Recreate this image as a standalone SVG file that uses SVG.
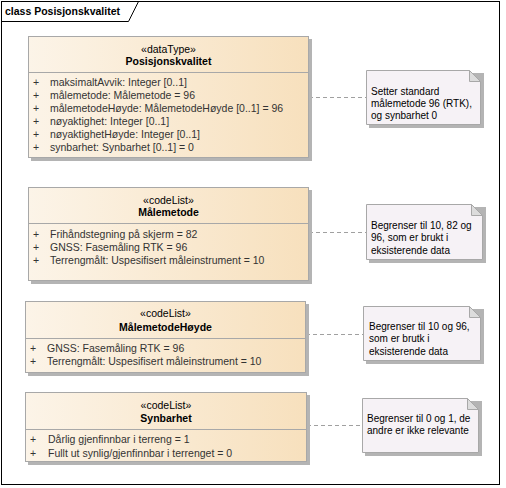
<svg xmlns="http://www.w3.org/2000/svg" width="506" height="488" viewBox="0 0 506 488">
<defs>
<linearGradient id="cls" x1="0" y1="0" x2="1" y2="0">
<stop offset="0" stop-color="#FCF4E8"/>
<stop offset="1" stop-color="#F7E0BD"/>
</linearGradient>
</defs>
<style>
.frame{fill:none;stroke:#000;stroke-width:1}
.box{fill:url(#cls);stroke:#A8A8A8;stroke-width:1}
.shadow{fill:#B4B4B4}
.div{stroke:#A8A8A8;stroke-width:1}
.note{fill:#F6F2F6;stroke:#A8A8A8;stroke-width:1}
.fold{fill:#DCDCDC;stroke:#A8A8A8;stroke-width:1}
.conn{stroke:#A0A0A0;stroke-width:1;stroke-dasharray:4 3;fill:none}
text{font-family:"Liberation Sans",Arial,sans-serif;font-size:10.5px;fill:#333}
.st{text-anchor:middle;fill:#000}
.nm{text-anchor:middle;font-weight:bold;fill:#000}
.nt{font-size:10px;fill:#000}
.title{font-weight:bold;fill:#000}
</style>
<rect x="0" y="0" width="506" height="488" fill="#fff"/>
<g id="frame">
<rect class="frame" x="1.5" y="1.5" width="498" height="483"/>
<path class="frame" d="M1.5 21.5 H128.5 L138.5 1.5"/>
<text class="title" x="5" y="15">class Posisjonskvalitet</text>
</g>
<g id="connectors">
<line class="conn" x1="309" y1="97.5" x2="366" y2="97.5"/>
<line class="conn" x1="309" y1="232.5" x2="366" y2="232.5"/>
<line class="conn" x1="306" y1="334.5" x2="363" y2="334.5"/>
<line class="conn" x1="307" y1="425.5" x2="362" y2="425.5"/>
</g>
<g id="Posisjonskvalitet">
<rect class="shadow" x="31" y="39" width="281" height="122"/>
<rect class="box" x="28.5" y="36.5" width="280" height="121"/>
<line class="div" x1="28.5" y1="72.5" x2="308.5" y2="72.5"/>
<text class="st" x="168.5" y="53">«dataType»</text>
<text class="nm" x="168.5" y="65">Posisjonskvalitet</text>
<text x="33" y="86">+</text><text x="50" y="86">maksimaltAvvik: Integer [0..1]</text>
<text x="33" y="99">+</text><text x="50" y="99">målemetode: Målemetode = 96</text>
<text x="33" y="112">+</text><text x="50" y="112">målemetodeHøyde: MålemetodeHøyde [0..1] = 96</text>
<text x="33" y="125">+</text><text x="50" y="125">nøyaktighet: Integer [0..1]</text>
<text x="33" y="138">+</text><text x="50" y="138">nøyaktighetHøyde: Integer [0..1]</text>
<text x="33" y="151">+</text><text x="50" y="151">synbarhet: Synbarhet [0..1] = 0</text>
</g>
<g id="note1">
<path class="shadow" d="M369 73 H484 V128 H369 Z"/>
<path class="note" d="M366.5 70.5 H469.5 L480.5 81.5 V124.5 H366.5 Z"/>
<path class="fold" d="M469.5 70.5 V81.5 H480.5 Z"/>
<text class="nt" x="371" y="95">Setter standard</text>
<text class="nt" x="371" y="107">målemetode 96 (RTK),</text>
<text class="nt" x="371" y="119">og synbarhet 0</text>
</g>
<g id="Malemetode">
<rect class="shadow" x="31" y="190" width="281" height="94"/>
<rect class="box" x="28.5" y="187.5" width="280" height="93"/>
<line class="div" x1="28.5" y1="223.5" x2="308.5" y2="223.5"/>
<text class="st" x="168.5" y="204">«codeList»</text>
<text class="nm" x="168.5" y="216">Målemetode</text>
<text x="33" y="238">+</text><text x="50" y="238">Frihåndstegning på skjerm = 82</text>
<text x="33" y="251">+</text><text x="50" y="251">GNSS: Fasemåling RTK = 96</text>
<text x="33" y="264">+</text><text x="50" y="264">Terrengmålt: Uspesifisert måleinstrument = 10</text>
</g>
<g id="note2">
<path class="shadow" d="M369 207 H486 V263 H369 Z"/>
<path class="note" d="M366.5 204.5 H471.5 L482.5 215.5 V259.5 H366.5 Z"/>
<path class="fold" d="M471.5 204.5 V215.5 H482.5 Z"/>
<text class="nt" x="371" y="229">Begrenser til 10, 82 og</text>
<text class="nt" x="371" y="241">96, som er brukt i</text>
<text class="nt" x="371" y="254">eksisterende data</text>
</g>
<g id="MalemetodeHoyde">
<rect class="shadow" x="28" y="304" width="281" height="72"/>
<rect class="box" x="25.5" y="301.5" width="280" height="71"/>
<line class="div" x1="25.5" y1="338.5" x2="305.5" y2="338.5"/>
<text class="st" x="165.5" y="317">«codeList»</text>
<text class="nm" x="165.5" y="331">MålemetodeHøyde</text>
<text x="30" y="352">+</text><text x="47" y="352">GNSS: Fasemåling RTK = 96</text>
<text x="30" y="365">+</text><text x="47" y="365">Terrengmålt: Uspesifisert måleinstrument = 10</text>
</g>
<g id="note3">
<path class="shadow" d="M366 309 H484 V364 H366 Z"/>
<path class="note" d="M363.5 306.5 H469.5 L480.5 317.5 V360.5 H363.5 Z"/>
<path class="fold" d="M469.5 306.5 V317.5 H480.5 Z"/>
<text class="nt" x="369" y="330">Begrenser til 10 og 96,</text>
<text class="nt" x="369" y="342">som er brutk i</text>
<text class="nt" x="369" y="355">eksisterende data</text>
</g>
<g id="Synbarhet">
<rect class="shadow" x="28" y="395" width="282" height="70"/>
<rect class="box" x="25.5" y="392.5" width="281" height="69"/>
<line class="div" x1="25.5" y1="429.5" x2="306.5" y2="429.5"/>
<text class="st" x="166" y="409">«codeList»</text>
<text class="nm" x="166" y="422">Synbarhet</text>
<text x="30" y="443">+</text><text x="48" y="443">Dårlig gjenfinnbar i terreng = 1</text>
<text x="30" y="457">+</text><text x="48" y="457">Fullt ut synlig/gjenfinnbar i terrenget = 0</text>
</g>
<g id="note4">
<path class="shadow" d="M365 401 H482 V456 H365 Z"/>
<path class="note" d="M362.5 398.5 H467.5 L478.5 409.5 V452.5 H362.5 Z"/>
<path class="fold" d="M467.5 398.5 V409.5 H478.5 Z"/>
<text class="nt" x="367" y="422">Begrenser til 0 og 1, de</text>
<text class="nt" x="367" y="434">andre er ikke relevante</text>
</g>
</svg>
